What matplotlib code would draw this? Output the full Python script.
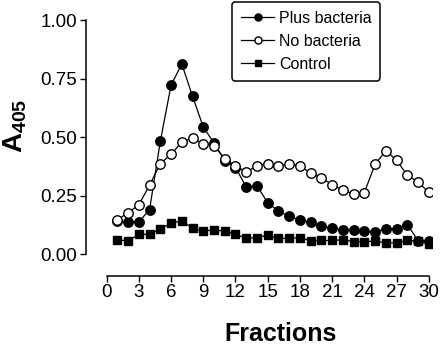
import matplotlib
matplotlib.use("Agg")
import matplotlib.pyplot as plt

plt.rcParams['font.family'] = ['Liberation Sans', 'DejaVu Sans']
plt.rcParams['mathtext.fontset'] = 'custom'
plt.rcParams['mathtext.rm'] = 'Liberation Sans'
plt.rcParams['mathtext.bf'] = 'Liberation Sans:bold'

fractions = list(range(1, 31))
plus_bacteria = [0.14, 0.138, 0.137, 0.19, 0.482, 0.722, 0.813, 0.675, 0.543, 0.475,
                 0.40, 0.37, 0.287, 0.291, 0.22, 0.182, 0.163, 0.144, 0.135, 0.118,
                 0.111, 0.101, 0.104, 0.098, 0.095, 0.108, 0.108, 0.126, 0.057, 0.057]
no_bacteria = [0.147, 0.176, 0.211, 0.294, 0.387, 0.426, 0.479, 0.496, 0.472, 0.462,
               0.408, 0.377, 0.351, 0.377, 0.387, 0.377, 0.387, 0.377, 0.347, 0.325,
               0.297, 0.273, 0.257, 0.263, 0.384, 0.442, 0.401, 0.337, 0.308, 0.264]
control = [0.06, 0.057, 0.084, 0.084, 0.107, 0.132, 0.142, 0.11, 0.097, 0.104,
           0.097, 0.085, 0.067, 0.07, 0.081, 0.067, 0.067, 0.07, 0.057, 0.058,
           0.058, 0.061, 0.053, 0.053, 0.055, 0.048, 0.048, 0.058, 0.055, 0.044]
x_ticks = list(range(0, 31, 3))
y_ticks = [0.0, 0.25, 0.5, 0.75, 1.0]

fig = plt.figure(figsize=(4.41, 3.48), dpi=100)
ax = fig.add_axes([0.1943, 0.2069, 0.7853, 0.737])

ax.plot(fractions, control, color='black', lw=0.9, marker='s', ms=6,
        mfc='black', mec='black', label='Control', zorder=2)
ax.plot(fractions, plus_bacteria, color='black', lw=0.9, marker='o', ms=6.8,
        mfc='black', mec='black', label='Plus bacteria', zorder=3)
ax.plot(fractions, no_bacteria, color='black', lw=0.9, marker='o', ms=6.8,
        mfc='white', mec='black', mew=1.0, label='No bacteria', zorder=4)

ax.set_xlim(-1.95, 30.3)
ax.set_ylim(-0.094, 1.003)
ax.spines['top'].set_visible(False)
ax.spines['right'].set_visible(False)
ax.spines['left'].set_bounds(0, 1)
ax.spines['bottom'].set_bounds(0, 30)
for s in ('left', 'bottom'):
    ax.spines[s].set_linewidth(1.1)

ax.set_xticks(x_ticks)
ax.set_yticks(y_ticks)
ax.set_yticklabels(['0.00', '0.25', '0.50', '0.75', '1.00'])
ax.tick_params(direction='out', length=4, width=1.0, labelsize=13.5, pad=2)

handles, labels = ax.get_legend_handles_labels()
order = [1, 2, 0]
leg = ax.legend([handles[i] for i in order], [labels[i] for i in order],
                loc='upper left', bbox_to_anchor=(0.526, 0.994),
                bbox_transform=fig.transFigure, fontsize=11.5, frameon=True,
                fancybox=True, edgecolor='black', framealpha=1,
                handlelength=2.1, handletextpad=0.3, borderpad=0.55,
                labelspacing=0.5, markerscale=0.75, borderaxespad=0)
leg.get_frame().set_linewidth(1.1)

fig.text(15 / 441, 1 - 126 / 348, r'$\mathbf{A}_{\mathbf{405}}$', rotation=90,
         ha='center', va='center', fontsize=20)
fig.text(281 / 441, 1 - 334 / 348, 'Fractions', ha='center', va='center',
         fontsize=18, fontweight='bold')

fig.savefig('out.png', dpi=100)
